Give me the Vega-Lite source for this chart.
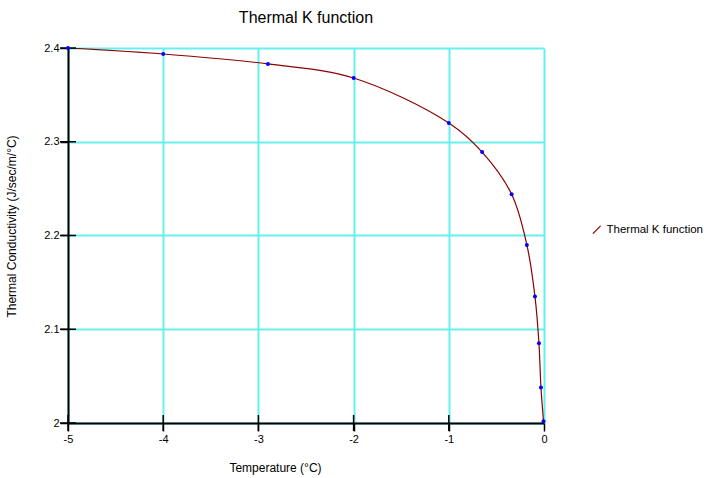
{
  "$schema": "https://vega.github.io/schema/vega-lite/v6.json",
  "width": 476,
  "height": 375,
  "autosize": {"type": "none"},
  "padding": {"left": 68, "top": 48, "right": 160, "bottom": 55},
  "background": "white",
  "config": {
    "font": "Liberation Sans",
    "view": {"stroke": null},
    "axis": {"labelFont": "Liberation Sans", "titleFont": "Liberation Sans"}
  },
  "title": {
    "text": "Thermal K function",
    "fontSize": 16,
    "fontWeight": "normal",
    "font": "Liberation Sans",
    "color": "#000000",
    "anchor": "middle",
    "offset": 16
  },
  "datasets": {
    "curve": [
      {"t": -5.0, "k": 2.400, "s": "Thermal K function"},
      {"t": -4.0, "k": 2.3936, "s": "Thermal K function"},
      {"t": -2.9, "k": 2.383, "s": "Thermal K function"},
      {"t": -2.0, "k": 2.368, "s": "Thermal K function"},
      {"t": -1.0, "k": 2.320, "s": "Thermal K function"},
      {"t": -0.65, "k": 2.289, "s": "Thermal K function"},
      {"t": -0.34, "k": 2.244, "s": "Thermal K function"},
      {"t": -0.18, "k": 2.190, "s": "Thermal K function"},
      {"t": -0.095, "k": 2.135, "s": "Thermal K function"},
      {"t": -0.053, "k": 2.085, "s": "Thermal K function"},
      {"t": -0.032, "k": 2.038, "s": "Thermal K function"},
      {"t": -0.005, "k": 2.002, "s": "Thermal K function"}
    ],
    "xticks": [{"v": -5}, {"v": -4}, {"v": -3}, {"v": -2}, {"v": -1}],
    "yticks": [{"v": 2}, {"v": 2.1}, {"v": 2.2}, {"v": 2.3}, {"v": 2.4}]
  },
  "layer": [
    {
      "data": {"name": "curve"},
      "mark": {"type": "line", "interpolate": "catmull-rom", "strokeWidth": 1.2, "clip": true},
      "encoding": {
        "x": {
          "field": "t", "type": "quantitative",
          "scale": {"domain": [-5, 0], "nice": false, "zero": false},
          "axis": {
            "values": [-5, -4, -3, -2, -1, 0],
            "labelExpr": "replace(toString(datum.value), '−', '-')",
            "title": "Temperature (°C)",
            "titleFontSize": 12, "titleFontWeight": "normal", "titleColor": "#000",
            "titleX": 207, "titleY": 48, "titleAlign": "center", "titleBaseline": "alphabetic",
            "labelFontSize": 11, "labelColor": "#000", "labelPadding": 2, "labelFlush": false,
            "domainColor": "#000", "domainWidth": 2,
            "tickColor": "#000", "tickSize": 8, "tickWidth": 1.5,
            "grid": true, "gridColor": "#66F0F0", "gridWidth": 2
          }
        },
        "y": {
          "field": "k", "type": "quantitative",
          "scale": {"domain": [2, 2.4], "nice": false, "zero": false},
          "axis": {
            "values": [2, 2.1, 2.2, 2.3, 2.4],
            "labelExpr": "toString(datum.value)",
            "title": "Thermal Conductivity (J/sec/m/°C)",
            "titleFontSize": 12, "titleFontWeight": "normal", "titleColor": "#000",
            "titleX": -50, "titleY": 178, "titleAlign": "center",
            "labelFontSize": 11, "labelColor": "#000", "labelPadding": 1, "labelFlush": false,
            "domainColor": "#000", "domainWidth": 2,
            "tickColor": "#000", "tickSize": 8, "tickWidth": 1.5,
            "grid": true, "gridColor": "#66F0F0", "gridWidth": 2
          }
        },
        "color": {
          "field": "s", "type": "nominal",
          "scale": {"domain": ["Thermal K function"], "range": ["#8B0000"]},
          "legend": {
            "title": null,
            "orient": "none",
            "legendX": 523,
            "legendY": 176,
            "symbolType": "M-1,1L1,-1",
            "symbolSize": 60,
            "symbolStrokeWidth": 1.2,
            "labelFontSize": 11.5,
            "labelColor": "#000",
            "labelFont": "Liberation Sans"
          }
        }
      }
    },
    {
      "data": {"name": "xticks"},
      "mark": {"type": "tick", "orient": "vertical", "color": "#000", "size": 16, "thickness": 1.5, "opacity": 1},
      "encoding": {
        "x": {"field": "v", "type": "quantitative"},
        "y": {"datum": 2}
      }
    },
    {
      "data": {"name": "yticks"},
      "mark": {"type": "tick", "orient": "horizontal", "color": "#000", "size": 16, "thickness": 1.5, "opacity": 1},
      "encoding": {
        "y": {"field": "v", "type": "quantitative"},
        "x": {"datum": -5}
      }
    },
    {
      "data": {"name": "curve"},
      "mark": {"type": "circle", "color": "#0000FF", "size": 16, "opacity": 1},
      "encoding": {
        "x": {"field": "t", "type": "quantitative"},
        "y": {"field": "k", "type": "quantitative"}
      }
    }
  ]
}
